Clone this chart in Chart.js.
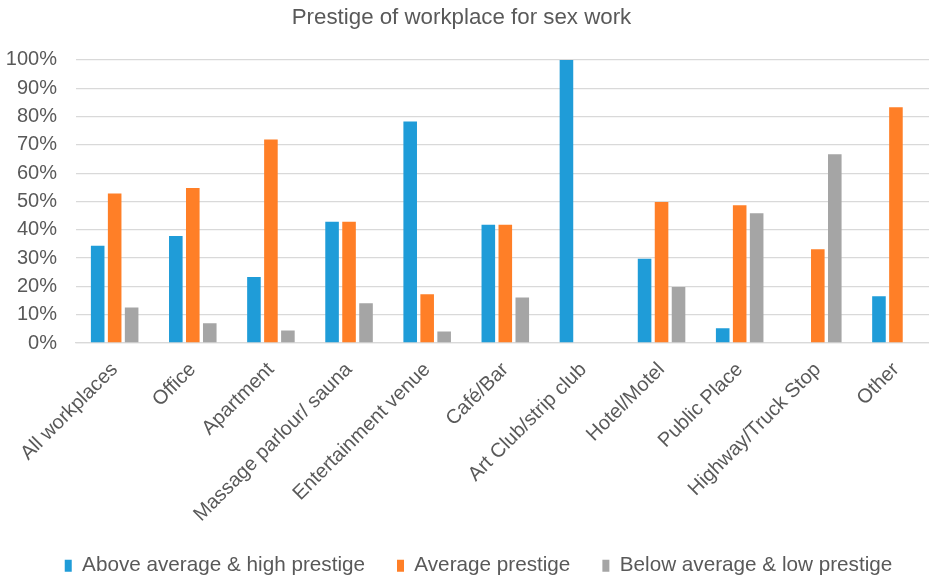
<!DOCTYPE html>
<html>
<head>
<meta charset="utf-8">
<script src="https://cdn.jsdelivr.net/npm/chart.js@4/dist/chart.umd.min.js"></script>
<style>
  html, body { margin: 0; padding: 0; background: #fff; overflow: hidden; }
  #wrap { width: 929px; height: 580px; overflow: hidden; position: relative; }
  #box { width: 936px; height: 586px; position: absolute; left: 0; top: 0; }
</style>
</head>
<body>
<div id="wrap"><div id="box"><canvas id="c"></canvas></div></div>
<script>
const titleText = "Prestige of workplace for sex work";
const categories = ["All workplaces", "Office", "Apartment", "Massage parlour/ sauna", "Entertainment venue", "Café/Bar", "Art Club/strip club", "Hotel/Motel", "Public Place", "Highway/Truck Stop", "Other"];
const seriesNames = ["Above average & high prestige", "Average prestige", "Below average & low prestige"];
const aboveHigh = [34.4, 37.8, 23.3, 42.8, 78.3, 41.8, 100, 29.8, 5.2, 0, 16.5];
const averageP = [52.8, 54.8, 71.9, 42.8, 17.2, 41.8, 0, 49.8, 48.7, 33.1, 83.3];
const belowLow = [12.5, 7.0, 4.4, 14.0, 4.1, 16.1, 0, 19.8, 45.8, 66.7, 0];
const yTicks = [0, 10, 20, 30, 40, 50, 60, 70, 80, 90, 100];
const colors = ["#1F9CD8", "#FF7F27", "#A5A5A5"];

const textColor = "#595959";
const fontFamily = "'Liberation Sans', Arial, sans-serif";

const shiftBoxes = {
  id: 'shiftBoxes',
  afterLayout(chart) {
    const lg = chart.legend;
    if (lg) { lg.left += 11; lg.right += 11; }
    const tt = chart.titleBlock;
    if (tt) { tt.left -= 6; tt.right -= 6; }
  }
};

new Chart(document.getElementById('c'), {
  type: 'bar',
  data: {
    labels: categories,
    datasets: [aboveHigh, averageP, belowLow].map((d, i) => ({
      label: seriesNames[i],
      data: d,
      backgroundColor: colors[i],
      borderWidth: 0,
      barPercentage: 0.8,
      categoryPercentage: 0.652
    }))
  },
  options: {
    responsive: true,
    maintainAspectRatio: false,
    animation: false,
    layout: { padding: { left: 0, right: 1, top: 0, bottom: 0 } },
    plugins: {
      title: {
        display: true,
        text: titleText,
        color: textColor,
        font: { family: fontFamily, size: 22.3, weight: 'normal' },
        padding: { top: 4.6, bottom: 28.6 }
      },
      legend: {
        position: 'bottom',
        labels: {
          color: textColor,
          font: { family: fontFamily, size: 20.7 },
          boxWidth: 7,
          boxHeight: 12,
          padding: 32
        }
      },
      tooltip: { enabled: false }
    },
    scales: {
      x: {
        clip: false,
        grid: { display: false, drawTicks: false },
        border: { display: true, color: '#D9D9D9', width: 1.3 },
        ticks: {
          color: textColor,
          font: { family: fontFamily, size: 20 },
          minRotation: 45,
          maxRotation: 45,
          autoSkip: false,
          padding: 15
        },
        afterFit(scale) { scale.height = 180.3; }
      },
      y: {
        min: 0,
        max: 100,
        afterBuildTicks(scale) { scale.ticks = yTicks.map(v => ({ value: v })); },
        grid: { color: '#D9D9D9', lineWidth: 1.3, drawTicks: false },
        border: { display: false },
        ticks: {
          color: textColor,
          font: { family: fontFamily, size: 20 },
          padding: 18.6,
          callback: v => v + '%'
        },
        afterFit(scale) { scale.width = 75.6; }
      }
    }
  },
  plugins: [shiftBoxes]
});
</script>
</body>
</html>
